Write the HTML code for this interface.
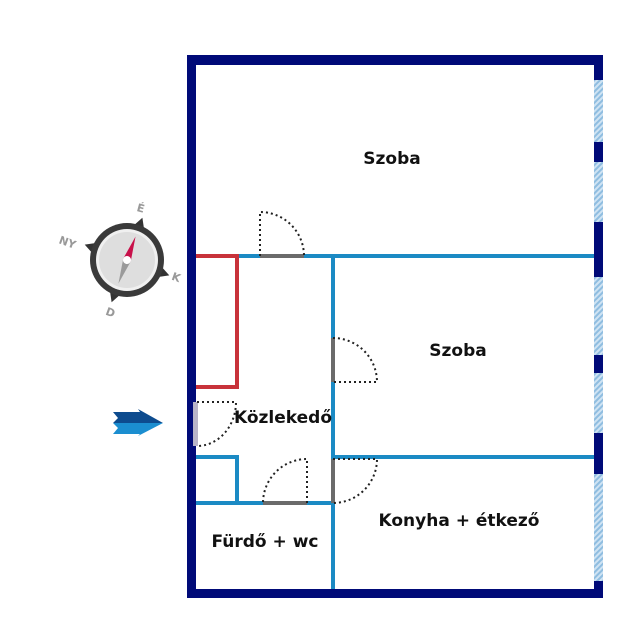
<!DOCTYPE html>
<html><head><meta charset="utf-8"><style>
html,body{margin:0;padding:0;background:#fff;}
svg{display:block;}
text{font-family:"DejaVu Sans","Liberation Sans",sans-serif;font-weight:bold;fill:#111;}
</style></head><body>
<svg width="640" height="640" viewBox="0 0 640 640" xmlns="http://www.w3.org/2000/svg">
<defs>
<pattern id="h" width="4" height="4" patternUnits="userSpaceOnUse" patternTransform="rotate(45)">
<rect width="4" height="4" fill="#cfe3f3"/><rect width="2" height="4" fill="#8fbde0"/>
</pattern>
</defs>
<rect width="640" height="640" fill="#fff"/>
<rect x="187" y="55" width="416" height="10" fill="#000a78"/>
<rect x="187" y="589" width="416" height="9" fill="#000a78"/>
<rect x="187" y="55" width="9" height="543" fill="#000a78"/>
<rect x="594" y="55" width="9" height="543" fill="#000a78"/>
<rect x="594" y="80" width="9" height="62" fill="url(#h)"/>
<rect x="594" y="162" width="9" height="60" fill="url(#h)"/>
<rect x="594" y="277" width="9" height="78" fill="url(#h)"/>
<rect x="594" y="373" width="9" height="60" fill="url(#h)"/>
<rect x="594" y="474" width="9" height="107" fill="url(#h)"/>
<g stroke="#1b8ac4" stroke-width="4" fill="none">
<line x1="238" y1="256" x2="594" y2="256"/>
<line x1="333" y1="256" x2="333" y2="589"/>
<line x1="333" y1="457" x2="594" y2="457"/>
<polyline points="196,457 237,457 237,503"/>
<line x1="196" y1="503" x2="335" y2="503"/>
</g>
<polyline points="196,256 237,256 237,387 196,387" stroke="#c8323a" stroke-width="4" fill="none"/>
<g stroke="#6b6b6b" stroke-width="4">
<line x1="260" y1="256" x2="304" y2="256"/>
<line x1="333" y1="338" x2="333" y2="382"/>
<line x1="333" y1="459" x2="333" y2="503"/>
<line x1="263" y1="503" x2="307" y2="503"/>
</g>
<rect x="193" y="402" width="5" height="44" fill="#b8b4c8"/>
<g stroke="#222" stroke-width="2" stroke-dasharray="2,3" fill="none">
<path d="M260,256 V212 A44,44 0 0 1 304,256"/>
<path d="M333,338 A44,44 0 0 1 377,382 H333"/>
<path d="M333,459 H377 A44,44 0 0 1 333,503"/>
<path d="M307,503 V459 A44,44 0 0 0 263,503"/>
<path d="M197,402 H236 A39,44 0 0 1 197,446"/>
</g>
<text x="392" y="164" font-size="17" text-anchor="middle">Szoba</text>
<text x="458" y="356" font-size="17" text-anchor="middle">Szoba</text>
<text x="283" y="423" font-size="17" text-anchor="middle">Közlekedő</text>
<text x="459" y="526" font-size="17" text-anchor="middle">Konyha + étkező</text>
<text x="265" y="547" font-size="17" text-anchor="middle">Fürdő + wc</text>
<polygon points="113,412 140,412 138,409 163,423 113,423 118,418" fill="#0d4b8e"/>
<polygon points="113,423 163,423 138,436 140,434 113,434 118,428" fill="#1b8ed0"/>
<g transform="translate(127,260)">
<g transform="rotate(20)" fill="#333">
<polygon points="-7,-32 0,-45 7,-32"/>
<polygon points="-7,32 0,45 7,32"/>
<polygon points="-32,-7 -45,0 -32,7"/>
<polygon points="32,-7 45,0 32,7"/>
</g>
<circle r="37" fill="#3a3a3a"/>
<circle r="31" fill="#f0f0f0"/>
<circle r="28" fill="#dedede"/>
<g transform="rotate(20)">
<polygon points="-4,0 0,-25 4,0" fill="#c8104a"/>
<polygon points="-4,0 0,25 4,0" fill="#9a9a9a"/>
<circle r="4" fill="#fff"/>
</g>
<text x="10" y="-48" font-size="11" transform="rotate(15,14,-52)" style="fill:#999">É</text>
<text x="-68" y="-14" font-size="11" transform="rotate(20,-60,-18)" style="fill:#999">NY</text>
<text x="45" y="21" font-size="11" transform="rotate(20,49,17)" style="fill:#999">K</text>
<text x="-21" y="56" font-size="11" transform="rotate(20,-17,52)" style="fill:#999">D</text>
</g>
</svg>
</body></html>
